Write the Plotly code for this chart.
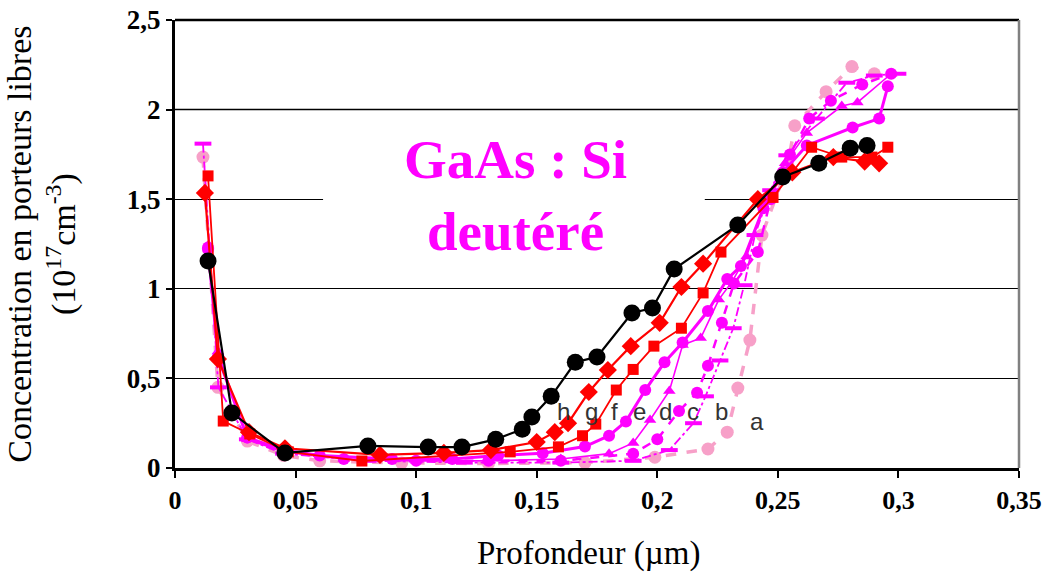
import plotly.graph_objects as go

# ---------------- data ----------------
x_h = [0.0137, 0.0236, 0.0456, 0.080, 0.105, 0.119, 0.133, 0.144, 0.148, 0.156, 0.166, 0.175,
       0.1895, 0.198, 0.207, 0.2334, 0.252, 0.267, 0.280, 0.287]
y_h = [1.155, 0.307, 0.084, 0.123, 0.117, 0.117, 0.16, 0.216, 0.285, 0.40, 0.59, 0.62,
       0.865, 0.893, 1.11, 1.356, 1.624, 1.70, 1.785, 1.80]

x_g = [0.0124, 0.0178, 0.0307, 0.0456, 0.085, 0.1115, 0.131, 0.150, 0.1575, 0.163, 0.1716,
       0.1795, 0.189, 0.201, 0.210, 0.219, 0.2417, 0.256, 0.273, 0.286, 0.292]
y_g = [1.535, 0.608, 0.20, 0.11, 0.073, 0.084, 0.10, 0.145, 0.20, 0.25, 0.424,
       0.547, 0.68, 0.81, 1.01, 1.14, 1.50, 1.65, 1.735, 1.71, 1.70]

x_f = [0.0137, 0.020, 0.031, 0.047, 0.0775, 0.139, 0.159, 0.169, 0.1745, 0.183, 0.190, 0.1986,
       0.210, 0.219, 0.2264, 0.248, 0.264, 0.2765, 0.289, 0.2956]
y_f = [1.63, 0.262, 0.19, 0.09, 0.039, 0.09, 0.118, 0.18, 0.245, 0.435, 0.55, 0.68,
       0.78, 0.977, 1.205, 1.51, 1.79, 1.735, 1.735, 1.79]

x_e = [0.0137, 0.0178, 0.030, 0.045, 0.060, 0.090, 0.115, 0.134, 0.1525, 0.170, 0.180, 0.187,
       0.195, 0.203, 0.2105, 0.221, 0.229, 0.2347, 0.244, 0.252, 0.262, 0.281, 0.292, 0.2956]
y_e = [1.23, 0.62, 0.17, 0.10, 0.07, 0.05, 0.05, 0.07, 0.082, 0.12, 0.18, 0.26,
       0.435, 0.59, 0.70, 0.876, 1.055, 1.127, 1.45, 1.65, 1.80, 1.90, 1.95, 2.13]

x_d = [0.0137, 0.0178, 0.030, 0.045, 0.070, 0.100, 0.130, 0.160, 0.180, 0.190, 0.197, 0.205,
       0.2105, 0.218, 0.2255, 0.231, 0.237, 0.245, 0.253, 0.262, 0.2765, 0.283, 0.297]
y_d = [1.24, 0.65, 0.16, 0.09, 0.05, 0.04, 0.04, 0.05, 0.08, 0.14, 0.268, 0.43,
       0.686, 0.725, 0.94, 1.04, 1.18, 1.50, 1.70, 1.87, 2.02, 2.04, 2.20]

x_c = [0.0137, 0.018, 0.030, 0.045, 0.070, 0.100, 0.130, 0.160, 0.190, 0.200, 0.209, 0.2165,
       0.221, 0.2268, 0.2318, 0.2417, 0.247, 0.255, 0.263, 0.272, 0.285, 0.297]
y_c = [1.22, 0.62, 0.17, 0.09, 0.05, 0.04, 0.04, 0.04, 0.08, 0.16, 0.318, 0.42,
       0.57, 0.81, 1.03, 1.205, 1.50, 1.75, 1.95, 2.05, 2.14, 2.20]

x_b = [0.0116, 0.018, 0.030, 0.045, 0.080, 0.120, 0.160, 0.190, 0.205, 0.215, 0.220, 0.226,
       0.2315, 0.236, 0.2405, 0.247, 0.2537, 0.266, 0.2786, 0.290, 0.2998]
y_b = [1.81, 0.45, 0.16, 0.08, 0.04, 0.03, 0.03, 0.04, 0.10, 0.25, 0.40, 0.60,
       0.78, 1.02, 1.30, 1.55, 1.745, 1.95, 2.15, 2.19, 2.20]

x_a = [0.0116, 0.0178, 0.030, 0.045, 0.060, 0.094, 0.130, 0.170, 0.199, 0.221, 0.229, 0.2334,
       0.2384, 0.2434, 0.2541, 0.257, 0.270, 0.2807, 0.290]
y_a = [1.735, 0.45, 0.15, 0.07, 0.04, 0.028, 0.025, 0.03, 0.06, 0.106, 0.20, 0.446,
       0.714, 1.30, 1.69, 1.91, 2.10, 2.24, 2.20]

curve_labels = ["h", "g", "f", "e", "d", "c", "b", "a"]
label_x = [0.1609, 0.1729, 0.1824, 0.1928, 0.2036, 0.2148, 0.2268, 0.2413]
label_y = [0.318, 0.318, 0.318, 0.318, 0.318, 0.318, 0.318, 0.262]

x_ticks = [0, 0.05, 0.1, 0.15, 0.2, 0.25, 0.3, 0.35]
x_ticktext = ["0", "0,05", "0,1", "0,15", "0,2", "0,25", "0,3", "0,35"]
y_ticks = [0, 0.5, 1, 1.5, 2, 2.5]
y_ticktext = ["0", "0,5", "1", "1,5", "2", "2,5"]

MAG = "#ff00ff"
RED = "#ff0000"
PINK = "#f7a0c8"
SERIF = "Liberation Serif, Times New Roman, serif"

fig = go.Figure()

def add(x, y, color, width, dash, symbol, size, mline=None):
    marker = dict(symbol=symbol, size=size, color=color)
    if mline:
        marker["line"] = dict(width=mline, color=color)
    fig.add_trace(go.Scatter(x=x, y=y, mode="lines+markers",
                             line=dict(color=color, width=width, dash=dash),
                             marker=marker, showlegend=False))

add(x_a, y_a, PINK, 3.5, "dash", "circle", 13)
add(x_b, y_b, MAG, 1.8, "dashdot", "line-ew", 12, mline=4)
add(x_c, y_c, MAG, 2.5, "dash", "circle", 12)
add(x_d, y_d, MAG, 1.6, "solid", "triangle-up", 11)
add(x_e, y_e, MAG, 3, "solid", "circle", 12)
add(x_f, y_f, RED, 1.8, "solid", "square", 11)
add(x_g, y_g, RED, 2.2, "solid", "diamond", 14)
add(x_h, y_h, "black", 2.2, "solid", "circle", 17)

annotations = []
for t, lx, ly in zip(curve_labels, label_x, label_y):
    annotations.append(dict(x=lx, y=ly, xref="x", yref="y", text=t, showarrow=False,
                            font=dict(family="Liberation Sans", size=24, color="#333333")))

annotations.append(dict(x=0.141, y=1.52, xref="x", yref="y", text="GaAs : Si<br>deutéré",
                        showarrow=False, xanchor="center", yanchor="middle",
                        font=dict(family=SERIF, size=55, color=MAG, weight="bold")))

annotations.append(dict(x=-0.158, y=0.5, xref="paper", yref="paper", textangle=-90,
                        xanchor="center", yanchor="middle",
                        text="Concentration en porteurs libres<br>(10<sup>17</sup>cm<sup>-3</sup>)",
                        showarrow=False,
                        font=dict(family=SERIF, size=34, color="black")))
annotations.append(dict(x=0.4905, y=-0.19, xref="paper", yref="paper",
                        xanchor="center", yanchor="middle",
                        text="Profondeur (µm)", showarrow=False,
                        font=dict(family=SERIF, size=33, color="black")))

shapes = [
    # white box behind title breaking the 1.5 gridline
    dict(type="rect", xref="x", yref="y", x0=0.0614, x1=0.2197, y0=1.42, y1=1.58,
         fillcolor="white", line=dict(width=0), layer="between"),
    # grey gridline at 2
    dict(type="line", xref="paper", yref="y", x0=0, x1=1, y0=2, y1=2,
         line=dict(color="#808080", width=2), layer="between"),
    # top border
    dict(type="line", xref="paper", yref="paper", x0=0, x1=1, y0=1, y1=1,
         line=dict(color="black", width=2.5)),
    # right border
    dict(type="line", xref="paper", yref="paper", x0=1, x1=1, y0=0, y1=1,
         line=dict(color="#808080", width=2.5)),
]

fig.update_layout(
    width=1063, height=581,
    margin=dict(l=175, r=44, t=20, b=113),
    paper_bgcolor="white", plot_bgcolor="white",
    annotations=annotations, shapes=shapes,
    xaxis=dict(range=[0, 0.35], tickvals=x_ticks, ticktext=x_ticktext, automargin=False,
               showgrid=False, zeroline=False, showline=True, linecolor="black", linewidth=2.5,
               ticks="outside", ticklen=7, tickwidth=2, tickcolor="black",
               tickfont=dict(family=SERIF, size=26, color="black", weight="bold")),
    yaxis=dict(range=[0, 2.5], tickvals=y_ticks, ticktext=y_ticktext, automargin=False,
               showgrid=True, gridcolor="black", gridwidth=1.2, zeroline=False,
               showline=True, linecolor="black", linewidth=3,
               ticks="outside", ticklen=6, tickwidth=2, tickcolor="black",
               tickfont=dict(family=SERIF, size=27, color="black", weight="bold")),
)

fig.write_html("out.html")
